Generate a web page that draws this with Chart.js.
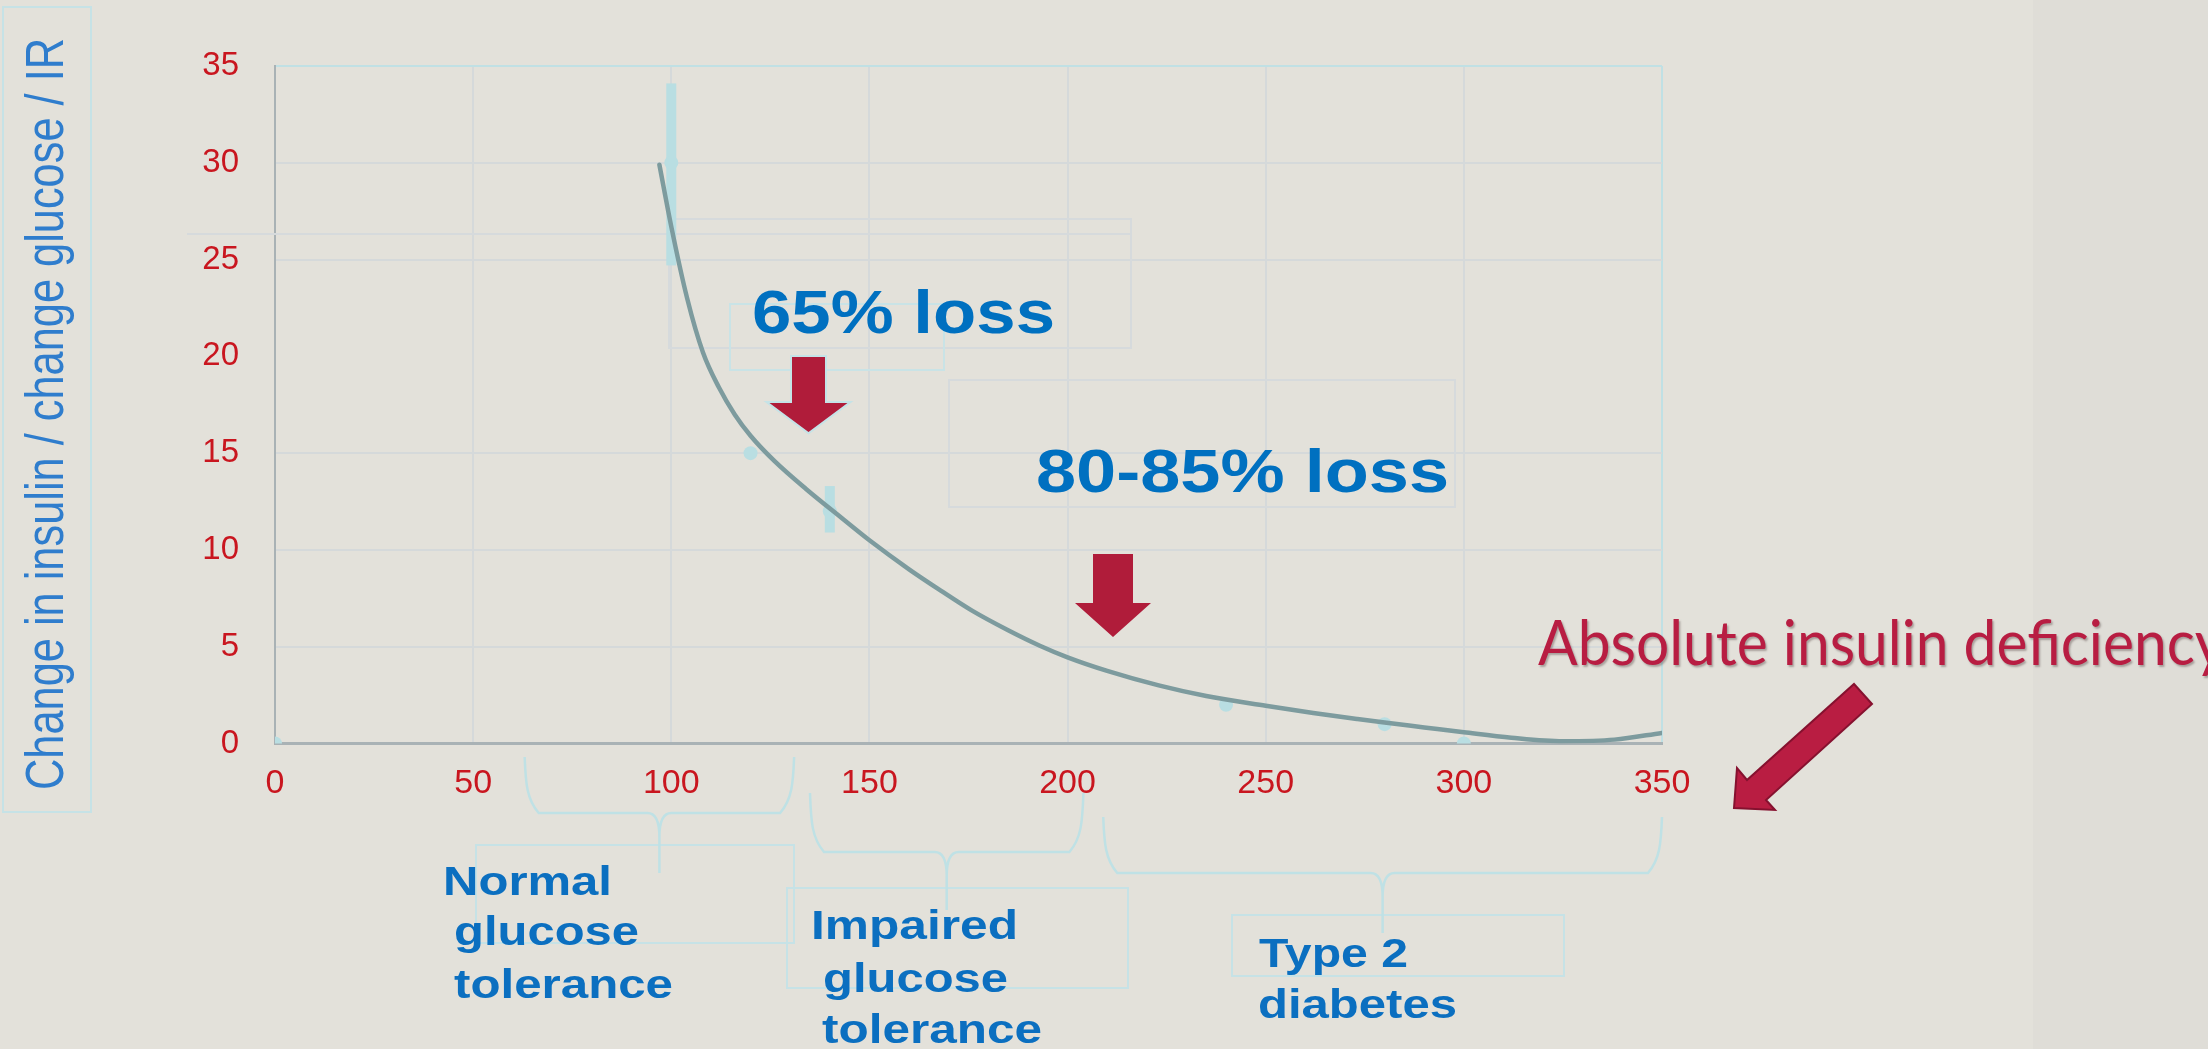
<!DOCTYPE html>
<html>
<head>
<meta charset="utf-8">
<title>Change in insulin / change glucose versus glucose</title>
<script src="https://cdn.jsdelivr.net/npm/chart.js@4.4.1/dist/chart.umd.min.js"></script>
<style>
  html, body { margin: 0; padding: 0; background: #e3e1da; }
  #wrap { position: relative; width: 2208px; height: 1049px; }
</style>
</head>
<body>
<div id="wrap"><canvas id="chart"></canvas></div>
<script>
// Axis ticks
const glucoseTicks = [0, 50, 100, 150, 200, 250, 300, 350];
const responseTicks = [0, 5, 10, 15, 20, 25, 30, 35];

// Fitted trend: insulin response per unit glucose change
const trendGlucose  = [97, 100, 104, 108, 112, 116, 120, 126, 134, 143, 150, 160, 168, 176, 185, 193, 200, 210, 223, 235, 250, 262, 273, 280, 290, 300, 312, 325, 338, 350];
const trendResponse = [29.9, 26.7, 23.0, 20.2, 18.4, 17.0, 15.9, 14.6, 13.15, 11.65, 10.5, 9.0, 7.9, 6.85, 5.85, 5.05, 4.45, 3.75, 3.0, 2.45, 1.95, 1.58, 1.27, 1.08, 0.83, 0.58, 0.3, 0.12, 0.2, 0.55];

// Group means
const groupGlucose  = [0, 100, 120, 140, 240, 280, 300];
const groupResponse = [0, 30, 15, 12, 2, 1, 0];

// Spread around two of the group means
const spreadGlucose = [100, 140];
const spreadLow     = [24.7, 10.9];
const spreadHigh    = [34.1, 13.3];

// Glucose bands bracketed under the axis
const bandStart = [63, 135, 209];
const bandEnd   = [131, 204, 350];
const bandLines = [
  ['Normal', 'glucose', 'tolerance'],
  ['Impaired', 'glucose', 'tolerance'],
  ['Type 2', 'diabetes']
];

// Loss callouts
const lossLabels = ['65% loss', '80-85% loss'];
const deficiencyLabel = 'Absolute insulin deficiency';
const axisTitle = 'Change in insulin / change glucose / IR';

const SANS = '"Liberation Sans", Arial, sans-serif';
Chart.defaults.font.family = SANS;

// Draws a string so that it spans exactly `width` pixels from (x, y) on its baseline
function fitText(ctx, str, x, y, font, color, width) {
  ctx.save();
  ctx.font = font;
  const w = ctx.measureText(str).width;
  ctx.translate(x, y);
  ctx.scale(width / w, 1);
  ctx.fillStyle = color;
  ctx.textAlign = 'left';
  ctx.textBaseline = 'alphabetic';
  ctx.fillText(str, 0, 0);
  ctx.restore();
}

function downArrow(ctx, cx, top, shaftW, headTop, headW, tipY, fill, edge) {
  ctx.save();
  ctx.beginPath();
  ctx.moveTo(cx - shaftW / 2, top);
  ctx.lineTo(cx + shaftW / 2, top);
  ctx.lineTo(cx + shaftW / 2, headTop);
  ctx.lineTo(cx + headW / 2, headTop);
  ctx.lineTo(cx, tipY);
  ctx.lineTo(cx - headW / 2, headTop);
  ctx.lineTo(cx - shaftW / 2, headTop);
  ctx.closePath();
  if (edge) {
    ctx.strokeStyle = edge;
    ctx.lineWidth = 4;
    ctx.lineJoin = 'miter';
    ctx.stroke();
  }
  ctx.fillStyle = fill;
  ctx.fill();
  ctx.restore();
}

function brace(ctx, x1, x2, yTop, yMid, yStem) {
  const xm = (x1 + x2) / 2;
  const r = 14, r2 = 12;
  ctx.beginPath();
  ctx.moveTo(x1, yTop);
  ctx.bezierCurveTo(x1 + 1, yMid - 30, x1 + 2, yMid - r, x1 + r, yMid);
  ctx.lineTo(xm - r2, yMid);
  ctx.quadraticCurveTo(xm, yMid, xm, yMid + 2 * r2);
  ctx.lineTo(xm, yStem);
  ctx.moveTo(x2, yTop);
  ctx.bezierCurveTo(x2 - 1, yMid - 30, x2 - 2, yMid - r, x2 - r, yMid);
  ctx.lineTo(xm + r2, yMid);
  ctx.quadraticCurveTo(xm, yMid, xm, yMid + 2 * r2);
  ctx.stroke();
}

function frame(ctx, x1, y1, x2, y2, color) {
  ctx.strokeStyle = color;
  ctx.lineWidth = 2;
  ctx.strokeRect(x1, y1, x2 - x1, y2 - y1);
}

const slideDecor = {
  id: 'slideDecor',
  beforeDraw(chart) {
    const ctx = chart.ctx;
    ctx.save();
    ctx.fillStyle = '#e3e1da';
    ctx.fillRect(0, 0, chart.width, chart.height);
    ctx.fillStyle = '#dfddd7';
    ctx.fillRect(2033, 0, chart.width - 2033, chart.height);
    ctx.restore();
  },
  beforeDatasetsDraw(chart) {
    const ctx = chart.ctx;
    const xs = chart.scales.x, ys = chart.scales.y;
    ctx.save();
    // text-box outlines left in the slide
    frame(ctx, 3, 7, 91, 812, '#c6e2e6');
    frame(ctx, 669, 219, 1131, 348, '#d6dadc');
    ctx.beginPath();
    ctx.moveTo(187, 234); ctx.lineTo(1131, 234);
    ctx.strokeStyle = '#d6dadc'; ctx.lineWidth = 2; ctx.stroke();
    frame(ctx, 730, 304, 944, 370, '#c9e3e6');
    frame(ctx, 949, 380, 1455, 507, '#d6dadc');
    frame(ctx, 476, 845, 794, 943, '#c6e2e6');
    frame(ctx, 787, 888, 1128, 988, '#c6e2e6');
    frame(ctx, 1232, 915, 1564, 976, '#c6e2e6');

    // vertical spread bars
    ctx.fillStyle = '#b9dee2';
    spreadGlucose.forEach((g, i) => {
      const px = xs.getPixelForValue(g);
      const yHi = ys.getPixelForValue(spreadHigh[i]);
      const yLo = ys.getPixelForValue(spreadLow[i]);
      ctx.fillRect(px - 5, yHi, 10, yLo - yHi);
    });
    ctx.restore();
  },
  afterDraw(chart) {
    const ctx = chart.ctx;
    const xs = chart.scales.x;
    ctx.save();

    // axis title, reading bottom to top
    ctx.save();
    ctx.translate(63, 790);
    ctx.rotate(-Math.PI / 2);
    fitText(ctx, axisTitle, 0, 0, '53px ' + SANS, '#2f7dcd', 752);
    ctx.restore();

    // brackets under the glucose axis
    ctx.strokeStyle = '#bfe1e5';
    ctx.lineWidth = 2.5;
    const braceY = [[757, 813, 873], [793, 852, 910], [817, 873, 933]];
    bandStart.forEach((s, i) => {
      const x1 = xs.getPixelForValue(s);
      const x2 = xs.getPixelForValue(bandEnd[i]);
      brace(ctx, x1, x2, braceY[i][0], braceY[i][1], braceY[i][2]);
    });

    // band names
    const blue = '#0b6fc0';
    const bandFont = 'bold 40px ' + SANS;
    const bandPlace = [
      [[443, 895, 169], [454, 945, 185], [454, 998, 219]],
      [[811, 939, 207], [823, 992, 185], [822, 1043, 220]],
      [[1259, 967, 149], [1258, 1018, 199]]
    ];
    bandLines.forEach((lines, i) => {
      lines.forEach((t, j) => {
        const p = bandPlace[i][j];
        fitText(ctx, t, p[0], p[1], bandFont, blue, p[2]);
      });
    });

    // loss callouts with arrows
    fitText(ctx, lossLabels[0], 752, 333, 'bold 61px ' + SANS, '#0070c0', 303);
    fitText(ctx, lossLabels[1], 1036, 492, 'bold 61px ' + SANS, '#0070c0', 413);
    downArrow(ctx, 808.5, 357, 33, 403, 78, 432, '#b01c3a', '#c5e3e7');
    downArrow(ctx, 1113, 554, 40, 603, 76, 637, '#b01c3a', null);

    // deficiency callout
    ctx.save();
    ctx.shadowColor = 'rgba(60,40,40,0.35)';
    ctx.shadowOffsetX = 1.5;
    ctx.shadowOffsetY = 2;
    ctx.shadowBlur = 2;
    fitText(ctx, deficiencyLabel, 1538, 665, '61px Lato, "Open Sans", sans-serif', '#b81d42', 687);
    ctx.restore();

    ctx.beginPath();
    ctx.moveTo(1854, 684);
    ctx.lineTo(1872, 704);
    ctx.lineTo(1766, 800);
    ctx.lineTo(1775, 810);
    ctx.lineTo(1734, 808);
    ctx.lineTo(1737, 768);
    ctx.lineTo(1747, 780);
    ctx.closePath();
    ctx.fillStyle = '#b91d42';
    ctx.fill();
    ctx.strokeStyle = '#86112f';
    ctx.lineWidth = 2;
    ctx.lineJoin = 'miter';
    ctx.stroke();

    ctx.restore();
  }
};

const gridGray = '#d5d9da';
const edgeCyan = '#c0e0e4';

new Chart(document.getElementById('chart'), {
  type: 'scatter',
  data: {
    datasets: [
      {
        label: 'Trend',
        data: trendGlucose.map((g, i) => ({ x: g, y: trendResponse[i] })),
        showLine: true,
        borderColor: '#7d9b9e',
        borderWidth: 4.5,
        pointRadius: 0,
        cubicInterpolationMode: 'monotone',
        borderCapStyle: 'round',
        order: 0
      },
      {
        label: 'Groups',
        data: groupGlucose.map((g, i) => ({ x: g, y: groupResponse[i] })),
        showLine: false,
        pointRadius: 7,
        pointBackgroundColor: '#b9dee2',
        pointBorderWidth: 0,
        order: 1
      }
    ]
  },
  options: {
    responsive: true,
    maintainAspectRatio: false,
    animation: false,
    events: [],
    layout: { padding: { top: 66, right: 546, bottom: 0, left: 0 } },
    plugins: { legend: { display: false }, tooltip: { enabled: false } },
    scales: {
      x: {
        type: 'linear',
        min: 0, max: 350,
        afterBuildTicks: s => { s.ticks = glucoseTicks.map(v => ({ value: v })); },
        afterFit: s => { s.height = 1049 - 743.5; },
        ticks: {
          color: '#c9161f',
          font: { size: 34 },
          padding: 20,
          maxRotation: 0,
          autoSkip: false
        },
        grid: {
          drawTicks: false,
          lineWidth: 2,
          color: c => c.tick && c.tick.value === 0 ? 'rgba(0,0,0,0)'
                    : (c.tick && c.tick.value === 350 ? edgeCyan : gridGray)
        },
        border: { color: '#a9b2b5', width: 3 }
      },
      y: {
        type: 'linear',
        min: 0, max: 35,
        afterBuildTicks: s => { s.ticks = responseTicks.map(v => ({ value: v })); },
        afterFit: s => { s.width = 275; },
        ticks: {
          color: '#c9161f',
          font: { size: 33 },
          padding: 36
        },
        grid: {
          drawTicks: false,
          lineWidth: 2,
          color: c => {
            const v = c.tick ? c.tick.value : null;
            if (v === 0 || v === 20) return 'rgba(0,0,0,0)';
            if (v === 35) return edgeCyan;
            return gridGray;
          }
        },
        border: { color: '#a9b2b5', width: 2 }
      }
    }
  },
  plugins: [slideDecor]
});
</script>
</body>
</html>
